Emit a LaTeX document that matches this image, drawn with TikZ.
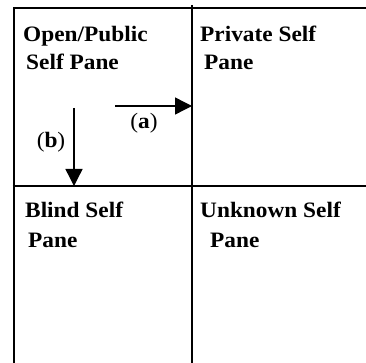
\documentclass[tikz,border=0pt]{standalone}
\usepackage{fontspec}
\setmainfont{Liberation Serif}[FakeStretch=1.06]
\usetikzlibrary{arrows.meta}
\begin{document}
\begin{tikzpicture}[x=1pt,y=-1pt,
  grid/.style={line width=1.6pt},
  lbl/.style={anchor=base west, inner sep=0pt, font=\fontsize{22}{28}\selectfont\bfseries},
  tag/.style={anchor=base, inner sep=0pt, font=\fontsize{22}{28}\selectfont},
  arr/.style={line width=1.4pt, -{Triangle[length=17pt,width=17pt]}}]
\useasboundingbox (0,0) rectangle (366,363);
\draw[grid] (366,8) -- (14,8) -- (14,363);
\draw[grid] (192,5) -- (192,363);
\draw[grid] (12.5,186) -- (366,186);
\node[lbl] (op1) at (23,42) {Open/Public};
\node[lbl] (op2) at (26,70) {Self Pane};
\node[lbl] (pr1) at (200,42) {Private Self};
\node[lbl] (pr2) at (204,70) {Pane};
\node[lbl] (bl1) at (25,217) {Blind Self};
\node[lbl] (bl2) at (28,247) {Pane};
\node[lbl] (un1) at (200,217) {Unknown Self};
\node[lbl] (un2) at (210,247) {Pane};
\coordinate (a0) at (115,106);
\coordinate (a1) at (192,106);
\coordinate (b0) at (74,108);
\coordinate (b1) at (74,186);
\draw[arr] (a0) -- (a1);
\draw[arr] (b0) -- (b1);
\node[tag] (la) at (144,129) {(\textbf{a})};
\node[tag] (lb) at (51,148) {(\textbf{b})};
\end{tikzpicture}
\end{document}
